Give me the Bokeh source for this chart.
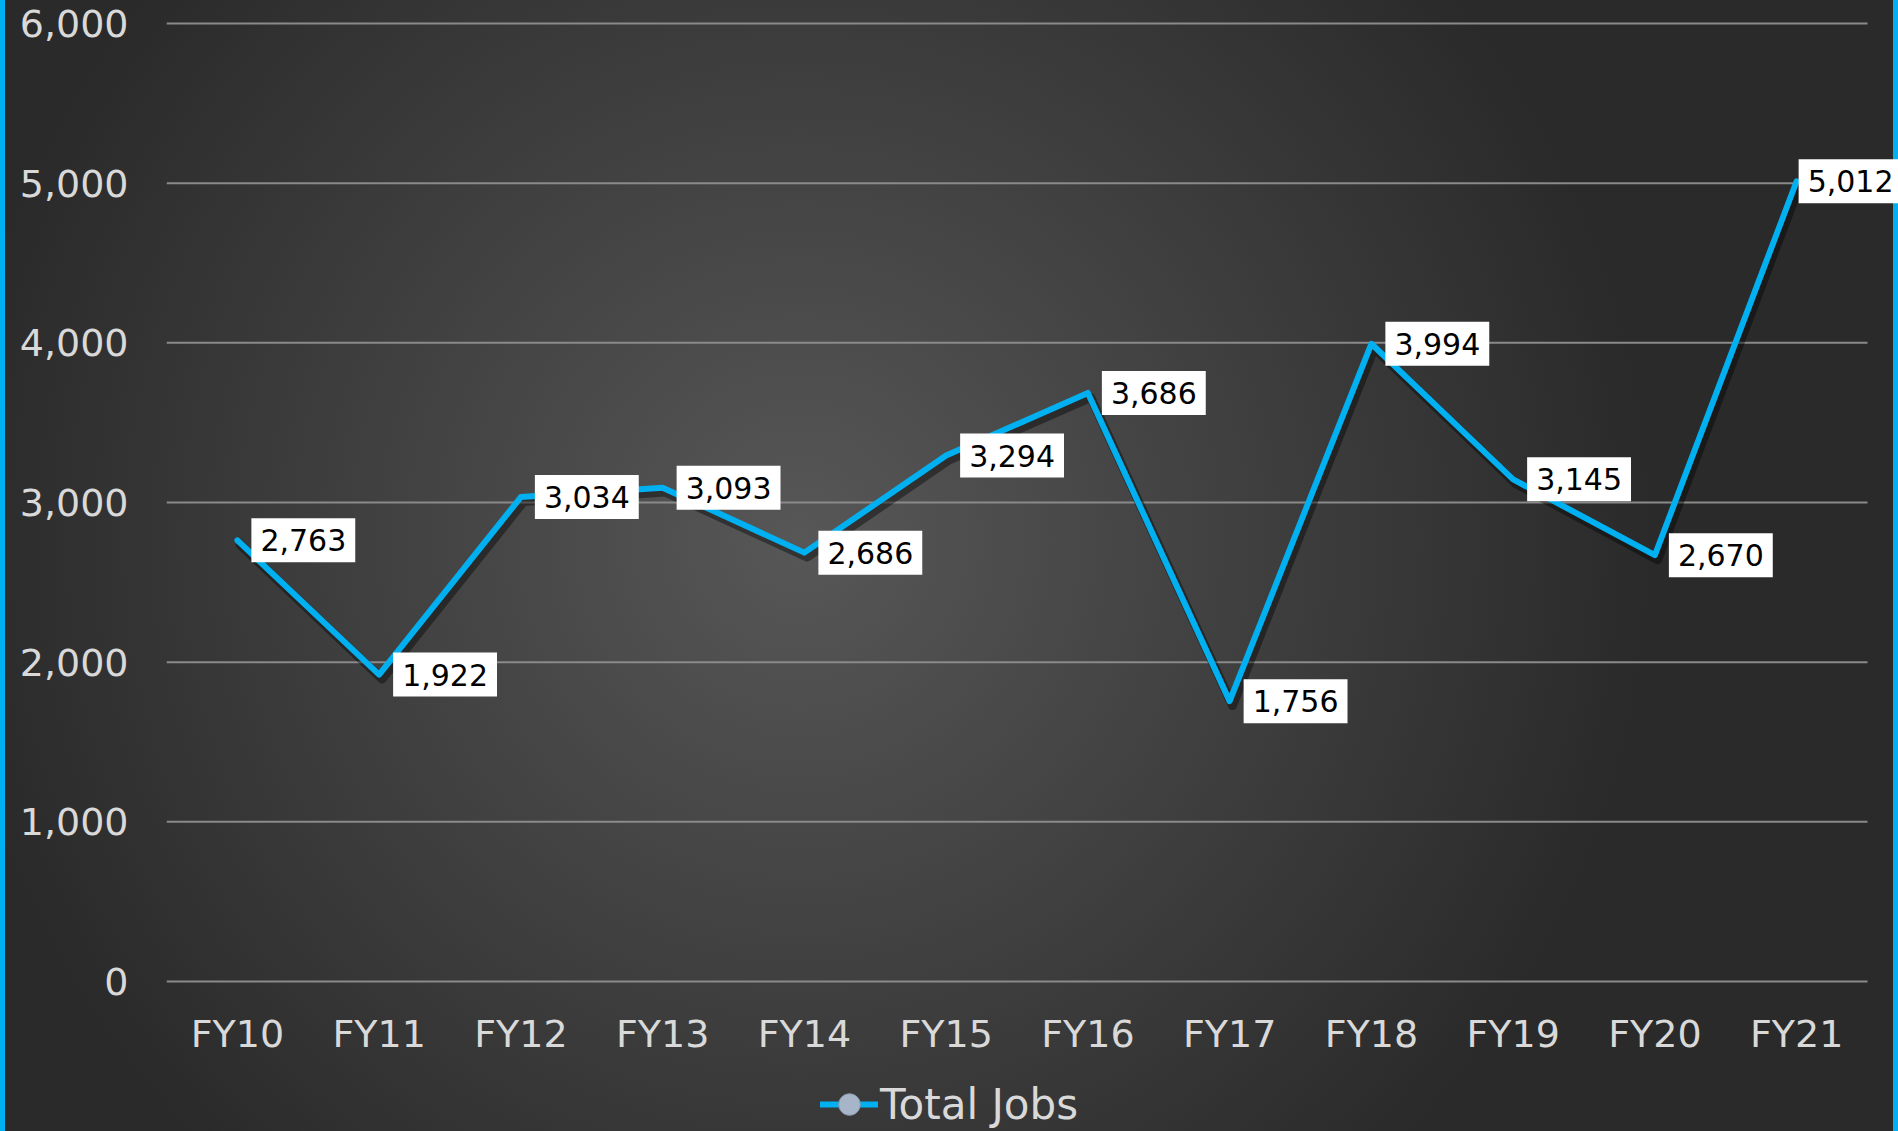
from bokeh.plotting import figure
from bokeh.models import (ColumnDataSource, FixedTicker, NumeralTickFormatter, Range1d,
                          Legend, LegendItem)
from bokeh.transform import dodge
from bokeh.core.properties import value
from bokeh.embed import file_html
from bokeh.resources import INLINE

categories = ["FY10", "FY11", "FY12", "FY13", "FY14", "FY15", "FY16", "FY17", "FY18", "FY19", "FY20", "FY21"]
total_jobs = [2763, 1922, 3034, 3093, 2686, 3294, 3686, 1756, 3994, 3145, 2670, 5012]
y_ticks = [0, 1000, 2000, 3000, 4000, 5000, 6000]
series_name = "Total Jobs"

FONT = "DejaVu Sans"
LINE_BLUE = "#00b0f0"
TEXT_GREY = "#d9d9d9"

W, H = 1898, 1131
FRAME_LEFT = 166
ZERO_Y = 981          # screen row of the value 0
TOP_Y = 23            # screen row of the value 6000
px_per_unit = (ZERO_Y - TOP_Y) / y_ticks[-1]

n = len(categories)
xs = list(range(n))
label_offsets = [14] * (n - 1) + [2]

src = ColumnDataSource(dict(
    x=xs, y=total_jobs,
    label=[f"{v:,}" for v in total_jobs],
    xoff=label_offsets,
))
grid_src = ColumnDataSource(dict(y=y_ticks))

x_end = -0.5 + (W - FRAME_LEFT) / ((W - 31 - FRAME_LEFT) / n)
p = figure(width=W, height=H, output_backend="svg", toolbar_location=None,
           x_range=Range1d(-0.5, x_end),
           y_range=Range1d(-(H - ZERO_Y) / px_per_unit, ZERO_Y / px_per_unit),
           min_border_left=FRAME_LEFT, min_border_right=0, min_border_top=0, min_border_bottom=0)

p.background_fill_alpha = 0
p.border_fill_alpha = 0
p.outline_line_color = None
p.styles = {
    "background": (
        "linear-gradient(to right, #00b0f0 0px, #00b0f0 5px, transparent 5px, "
        "transparent calc(100% - 5px), #00b0f0 calc(100% - 5px), #00b0f0 100%), "
        "radial-gradient(circle 850px at 800px 540px, #575757 0%, #2a2a2a 100%)"
    )
}

p.xgrid.visible = False
p.ygrid.visible = False

# horizontal gridlines
p.segment(x0=-0.5, x1=n - 0.5, y0="y", y1="y", source=grid_src,
          line_color="#8a8a8a", line_width=2)

# axes
p.xaxis.fixed_location = 0
p.xaxis.ticker = FixedTicker(ticks=xs)
p.xaxis.major_label_overrides = {i: c for i, c in enumerate(categories)}
p.yaxis.ticker = FixedTicker(ticks=y_ticks)
p.yaxis.formatter = NumeralTickFormatter(format="0,0")
for ax in (p.xaxis, p.yaxis):
    ax.axis_line_color = None
    ax.major_tick_line_color = None
    ax.minor_tick_line_color = None
    ax.major_tick_out = 0
    ax.major_tick_in = 0
    ax.major_label_text_font = FONT
    ax.major_label_text_font_size = "38px"
    ax.major_label_text_color = TEXT_GREY
p.yaxis.major_label_standoff = 38
p.xaxis.major_label_standoff = 30

# legend marker renderer (zero size on the chart; drawn only in the legend)
marker_r = p.scatter(x="x", y="y", source=src, marker="circle", size=0,
                     fill_color="#a7b5c9", line_color="#8a99ae", line_width=1)

# shadow of the line
p.line(x=dodge("x", 0.02), y=dodge("y", -28), source=src, line_color="black",
       line_alpha=0.4, line_width=9, line_join="round", line_cap="round")

line_r = p.line(x="x", y="y", source=src, line_color=LINE_BLUE, line_width=6,
                line_join="round", line_cap="round")

p.text(x="x", y="y", text="label", source=src, x_offset="xoff",
       text_align="left", text_baseline="middle",
       text_font=value(FONT), text_font_size="30px", text_color="black",
       background_fill_color="white", padding=(9, 11))

legend = Legend(items=[LegendItem(label=series_name, renderers=[line_r, marker_r])],
                location=(820 - FRAME_LEFT, 0), orientation="horizontal",
                background_fill_alpha=0, border_line_color=None,
                padding=0, margin=0, spacing=0,
                glyph_width=58, glyph_height=54, label_height=54,
                label_standoff=2,
                label_text_font=FONT, label_text_font_size="42px",
                label_text_color=TEXT_GREY)
p.add_layout(legend)

open("out.html", "w").write(file_html(p, INLINE))
